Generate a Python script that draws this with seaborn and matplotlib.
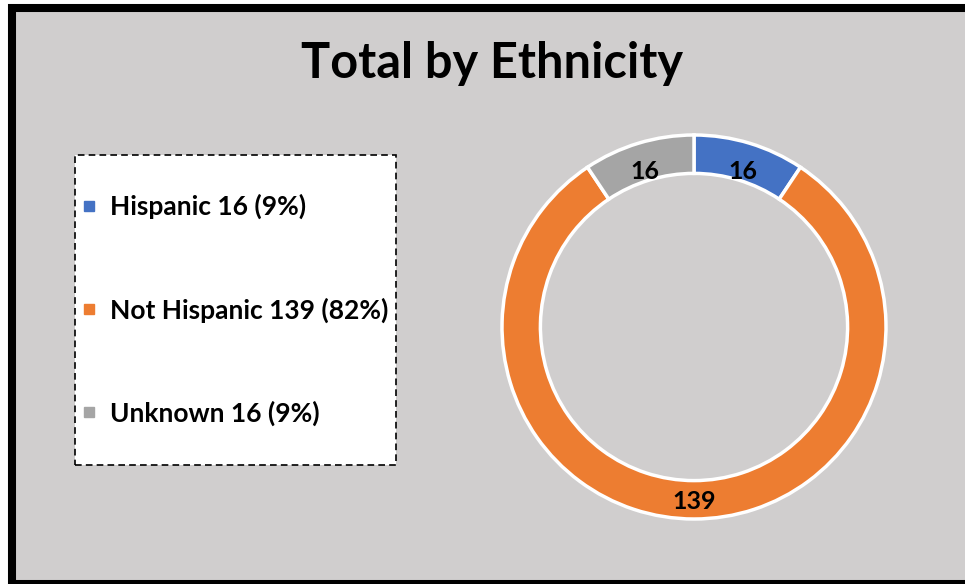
import matplotlib
matplotlib.use("Agg")
import matplotlib.pyplot as plt
from matplotlib.patches import Rectangle
from matplotlib.lines import Line2D
import seaborn as sns

# ---- data ----
categories = ["Hispanic", "Not Hispanic", "Unknown"]
counts = [16, 139, 16]
percents = ["9%", "82%", "9%"]
title = "Total by Ethnicity"

# ---- style ----
sns.set_theme(style="white")
plt.rcParams["font.family"] = ["Lato", "DejaVu Sans"]
colors = ["#4472C4", "#ED7D31", "#A5A5A5"]
bg = "#D0CECE"

W, H = 965, 584
fig = plt.figure(figsize=(W / 100, H / 100), dpi=100)
fig.patch.set_facecolor("white")

def fx(px):
    return px / W

def fy(py):
    return 1 - py / H

# chart area with thick black border
frame = Rectangle((fx(12), fy(584)), fx(975) - fx(12), fy(8) - fy(584),
                  transform=fig.transFigure, facecolor=bg, edgecolor="black",
                  linewidth=5.8, zorder=-5, clip_on=False)
fig.patches.append(frame)

# title
fig.text(fx(492), fy(63), title, ha="center", va="center",
         fontsize=35, fontweight="bold", color="black")

# donut
cx, cy, r = 694, 327, 192
ax = fig.add_axes([fx(cx - r), fy(cy + r), fx(2 * r), (2 * r) / H])
ax.set_zorder(2)
ax.set_facecolor("none")
ax.axis("off")
wedges, texts, autotexts = ax.pie(
    counts, colors=colors, startangle=90, counterclock=False,
    radius=1.0,
    wedgeprops=dict(width=0.2, edgecolor="white", linewidth=2.5),
    autopct=lambda p: "{:.0f}".format(round(p * sum(counts) / 100)),
    pctdistance=0.88,
)
for t in autotexts:
    t.set_fontsize(18)
    t.set_fontweight("bold")
    t.set_color("black")
    x, y = t.get_position()
    t.set_position((x, y - 0.03))
ax.set_xlim(-1.0, 1.0)
ax.set_ylim(-1.0, 1.0)
ax.set_aspect("equal")

# legend box
box = Rectangle((fx(75), fy(465)), fx(396) - fx(75), fy(155) - fy(465),
                transform=fig.transFigure, facecolor="white", edgecolor="black",
                linewidth=1.2, linestyle=(0, (4, 2.5)), zorder=1)
fig.patches.append(box)

handles = [Line2D([0], [0], marker="s", linestyle="none", markersize=7,
                  markerfacecolor=c, markeredgecolor=c) for c in colors]
labels = [f"{c} {n} ({p})" for c, n, p in zip(categories, counts, percents)]
leg = fig.legend(handles, labels, loc="center left",
                 bbox_to_anchor=(fx(82), fy(310)), frameon=False,
                 prop=dict(size=19, weight="bold"), labelspacing=2.95,
                 handlelength=0.55, handletextpad=0.5, borderpad=0,
                 borderaxespad=0)
leg.set_zorder(3)
for t in leg.get_texts():
    t.set_color("black")

fig.savefig("out.png", dpi=100, facecolor=fig.get_facecolor())
